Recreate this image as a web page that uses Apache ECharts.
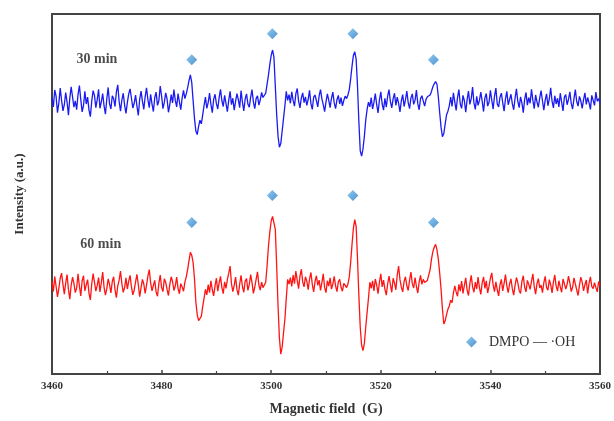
<!DOCTYPE html>
<html>
<head>
<meta charset="utf-8">
<script src="https://cdn.jsdelivr.net/npm/echarts@6/dist/echarts.min.js"></script>
<style>
html,body{margin:0;padding:0;background:#fff;}
#chart{width:614px;height:421px;}
</style>
</head>
<body>
<div id="chart"></div>
<script>
// Sampling grid of the spectra (Gauss)
const FIELD_START = 3460;
const FIELD_STEP = 0.25;
const X_TICKS = [3460, 3480, 3500, 3520, 3540, 3560];

// 30 min spectrum (blue)
const BLUE_30MIN = [
  76.8,74.2,78.9,77.1,72.6,75.3,79.4,76.0,73.1,74.8,
  78.2,75.5,71.9,76.7,79.8,77.0,74.1,75.9,73.4,77.6,
  80.1,76.3,72.8,74.6,78.5,75.0,76.9,73.3,71.5,75.8,
  78.7,77.4,74.0,76.2,79.1,73.8,75.6,77.9,74.5,72.2,
  76.4,79.6,75.1,73.6,77.3,76.5,74.3,78.4,80.3,75.7,
  73.0,76.1,78.0,74.7,72.4,75.4,77.8,79.2,76.6,73.9,
  75.2,77.5,74.4,71.8,76.3,78.6,75.8,73.5,77.0,79.5,
  76.2,74.0,77.7,75.0,72.9,76.8,78.3,74.6,75.9,80.0,
  77.2,73.7,75.5,78.1,76.4,72.7,74.9,77.6,75.3,79.0,
  76.0,74.2,77.9,75.6,73.4,76.7,78.8,
  76.5,77.8,79.5,81.5,83.1,81.0,76.0,71.0,67.5,66.5,68.8,70.5,69.5,72.0,
  74.6,76.9,73.8,75.4,78.0,74.9,72.6,76.3,77.7,75.1,
  73.6,76.8,79.1,75.9,74.3,77.4,75.2,72.9,76.0,78.5,
  74.8,76.6,73.3,75.7,77.9,76.2,74.0,78.7,75.5,73.1,
  76.4,77.8,75.0,74.1,76.9,79.0,75.6,73.7,76.5,77.3,
  74.7,76.1,78.2,76.8,
  77.0,78.0,80.5,83.0,86.0,88.5,90.0,88.0,80.0,72.0,66.0,63.0,64.0,67.5,71.0,74.5,78.5,76.0,
  77.6,75.2,78.4,76.0,74.4,77.9,79.3,75.8,73.9,76.7,
  78.1,75.4,77.0,74.6,76.3,78.8,75.1,73.5,76.9,77.5,
  75.9,74.2,77.3,79.0,76.4,74.8,72.9,75.6,77.8,76.1,
  74.0,76.6,78.3,75.3,73.7,76.2,77.4,75.0,76.8,74.5,
  76.0,77.2,
  76.5,77.5,79.0,82.0,85.5,88.5,89.5,87.5,80.0,70.0,62.0,60.5,62.5,66.0,70.5,73.5,75.5,
  74.2,76.8,73.6,75.5,77.9,74.8,72.5,76.1,78.4,75.0,
  73.3,76.6,74.1,77.2,79.0,75.7,73.9,76.4,78.0,74.6,
  76.9,75.2,72.8,75.9,77.6,74.3,76.2,78.6,75.4,73.7,
  76.7,77.8,74.9,76.0,78.9,75.1,73.4,76.5,77.3,75.8,
  74.4,76.3,77.0,
  76.5,77.5,78.5,79.8,80.6,81.2,80.5,77.0,72.5,68.5,65.9,66.8,69.5,72.0,73.0,74.5,
  76.9,74.3,78.1,75.6,73.2,76.8,79.0,75.0,73.8,77.4,
  75.9,72.7,76.2,78.6,74.9,76.5,79.7,75.3,73.5,77.1,
  74.6,76.0,78.3,75.8,72.9,76.7,77.9,74.4,75.5,78.8,
  76.1,73.6,77.2,79.4,75.0,74.2,76.9,78.0,75.4,73.0,
  76.4,78.5,74.8,76.2,77.7,75.1,73.4,76.6,79.2,75.7,
  74.0,77.0,75.3,72.6,76.3,78.2,74.7,76.8,75.2,79.1,
  76.0,73.7,77.5,75.6,74.1,76.7,78.7,75.9,73.3,76.1,
  77.8,74.5,76.4,79.5,75.8,73.9,77.3,75.0,76.6,74.2,
  78.0,75.5,73.1,76.9,77.6,74.8,76.3,78.4,75.2,73.6,
  76.5,79.0,75.7,74.4,77.1,75.9,73.8,76.2,78.1,74.9,
  76.8,75.4,73.5,77.4,76.0,74.6,78.3,75.8,76.5,75.1
];

// 60 min spectrum (red)
const RED_60MIN = [
  25.8,22.9,27.1,24.3,21.4,23.8,26.6,28.0,24.9,22.2,
  25.3,27.6,23.5,20.8,24.7,26.9,25.2,22.6,23.9,27.8,
  24.4,21.7,25.9,27.3,23.1,24.8,26.2,22.4,20.6,25.0,
  27.9,25.5,23.0,24.6,26.8,22.8,25.4,28.3,24.1,21.9,
  23.7,26.4,24.9,22.5,25.7,27.0,23.4,21.2,24.5,26.1,
  28.6,25.1,22.7,24.0,26.7,23.6,25.8,27.4,24.2,22.0,
  23.3,25.6,27.7,24.8,21.5,23.9,26.3,25.0,22.4,24.7,
  27.2,29.0,25.3,23.1,24.6,26.0,22.8,21.6,25.2,27.5,
  24.0,22.9,26.5,25.4,23.5,21.8,24.9,27.0,25.7,23.2,
  24.5,26.9,23.8,22.3,25.1,24.2,23.0,
  25.5,27.0,29.0,31.5,33.8,33.0,31.0,26.5,20.0,16.5,14.8,14.4,16.0,18.8,21.0,23.5,22.0,
  24.8,22.6,25.9,23.4,21.7,24.5,26.6,23.0,25.3,27.1,
  24.0,22.3,25.6,23.8,26.2,28.0,30.0,25.1,22.9,24.6,
  26.9,23.5,21.9,25.0,27.4,24.3,22.7,25.8,26.5,23.2,
  24.9,27.6,25.4,22.4,24.1,26.3,28.4,24.7,23.3,25.5,
  24.0,
  24.5,25.5,30.0,35.5,39.5,42.5,43.8,42.0,40.2,30.0,18.9,10.0,5.5,7.5,11.5,15.2,21.0,26.3,25.0,
  26.8,24.3,27.5,25.1,28.6,26.0,23.7,27.2,29.1,25.6,
  24.2,27.0,25.8,23.4,26.4,28.2,24.9,22.8,25.7,27.3,
  24.6,26.1,23.2,25.4,27.8,24.0,22.6,25.9,24.4,26.7,
  23.6,25.0,27.1,24.5,22.9,25.6,26.3,24.1,23.0,25.2,
  24.6,
  24.0,25.0,27.0,31.0,36.0,40.5,42.9,41.0,32.0,21.7,13.0,8.0,6.5,8.5,13.0,17.1,21.0,25.5,23.8,
  25.9,23.1,26.4,24.7,22.3,25.5,27.8,24.2,26.1,23.6,
  21.9,25.0,27.2,24.8,22.7,26.6,25.3,23.4,27.5,30.0,
  26.2,24.1,22.8,25.7,27.0,24.5,23.2,26.0,28.3,25.1,
  23.9,26.8,24.3,22.5,25.6,27.4,24.9,26.3,25.4,25.8,
  26.0,26.3,29.0,31.9,34.0,35.2,36.0,34.5,31.9,28.0,23.5,18.0,13.9,14.8,16.5,18.0,18.9,20.5,19.8,22.5,24.5,22.8,
  21.6,24.9,23.0,25.8,22.4,24.6,26.7,23.3,21.8,25.1,
  27.4,24.2,22.7,25.5,23.6,26.9,24.0,22.1,25.3,27.0,
  23.8,25.9,22.5,24.4,26.6,28.1,24.7,22.9,25.6,23.4,
  21.7,24.8,26.3,23.1,25.2,27.6,24.5,22.6,25.0,26.4,
  23.7,21.9,24.6,26.8,25.4,23.2,22.4,25.7,27.3,24.1,
  22.8,26.0,24.9,23.5,25.8,27.8,24.3,22.2,25.1,26.5,
  23.9,24.7,22.6,25.4,27.1,24.0,23.3,26.2,24.8,22.5,
  25.6,27.5,24.4,23.0,25.9,24.2,22.7,26.4,25.1,23.6,
  24.9,27.2,25.3,22.9,24.1,26.7,25.0,23.4,21.8,24.6,
  26.9,25.5,23.1,24.8,26.1,22.4,25.2,27.0,24.3,23.7,
  25.4,24.0,22.8,25.7,24.5
];

// DMPO-·OH peak markers
const MARKER_FIELDS = [3485.5, 3500.2, 3514.9, 3529.6];
const MARKER_Y_30MIN = [87.3, 94.5, 94.5, 87.3];
const MARKER_Y_60MIN = [42.1, 49.6, 49.6, 42.1];
const MARKER_NAME = 'DMPO — ·OH';

// curve labels
const CURVE_LABELS = ['30 min', '60 min'];
const CURVE_LABEL_FIELD = [3468.2, 3468.9];
const CURVE_LABEL_Y = [87.5, 36.0];

const toSeries = arr => arr.map((v, i) => [FIELD_START + i * FIELD_STEP, v]);
const markerData = MARKER_FIELDS.map((f, i) => [f, MARKER_Y_30MIN[i]])
  .concat(MARKER_FIELDS.map((f, i) => [f, MARKER_Y_60MIN[i]]));
const labelData = CURVE_LABELS.map((t, i) => ({ name: t, value: [CURVE_LABEL_FIELD[i], CURVE_LABEL_Y[i]] }));

const SERIF = "'Liberation Serif', 'DejaVu Serif', serif";
const chart = echarts.init(document.getElementById('chart'), null, { renderer: 'canvas' });
const diamondColor = new echarts.graphic.LinearGradient(0, 0, 1, 1, [
  { offset: 0, color: '#72bdec' },
  { offset: 1, color: '#2476c2' }
]);

chart.setOption({
  animation: false,
  backgroundColor: '#ffffff',
  grid: {
    left: 52, right: 12, top: 14, bottom: 46,
    show: true, borderColor: '#444', borderWidth: 2, backgroundColor: 'transparent'
  },
  legend: {
    data: [MARKER_NAME],
    left: 466, top: 335,
    icon: 'diamond', itemWidth: 11, itemHeight: 11, itemGap: 6, padding: 0,
    formatter: n => '  ' + n,
    textStyle: { fontFamily: SERIF, fontSize: 14, color: '#333' }
  },
  xAxis: {
    type: 'value', min: X_TICKS[0], max: X_TICKS[X_TICKS.length - 1], interval: 20,
    name: 'Magnetic field  (G)', nameLocation: 'middle', nameGap: 28,
    nameTextStyle: { fontFamily: SERIF, fontSize: 14, fontWeight: 'bold', color: '#333' },
    axisLine: { show: true, lineStyle: { color: '#444', width: 2 } },
    axisTick: { show: true, inside: true, length: 4, lineStyle: { color: '#444', width: 1.5 } },
    minorTick: { show: true, splitNumber: 2, length: 3, lineStyle: { color: '#444', width: 1.2 } },
    axisLabel: { fontFamily: SERIF, fontSize: 11, fontWeight: 'bold', color: '#333', margin: 7, formatter: v => String(v) },
    splitLine: { show: false }, minorSplitLine: { show: false }
  },
  yAxis: {
    type: 'value', min: 0, max: 100,
    name: 'Intensity (a.u.)', nameLocation: 'middle', nameGap: 26, nameRotate: 90,
    nameTextStyle: { fontFamily: SERIF, fontSize: 13, fontWeight: 'bold', color: '#333' },
    axisLine: { show: true, lineStyle: { color: '#444', width: 2 } },
    axisTick: { show: false }, axisLabel: { show: false }, splitLine: { show: false }
  },
  series: [
    {
      name: '30 min', type: 'line', data: toSeries(BLUE_30MIN), showSymbol: false,
      lineStyle: { color: '#1a1af2', width: 1.3 }, itemStyle: { color: '#1a1af2' }, z: 3
    },
    {
      name: '60 min', type: 'line', data: toSeries(RED_60MIN), showSymbol: false,
      lineStyle: { color: '#ff1414', width: 1.3 }, itemStyle: { color: '#ff1414' }, z: 3
    },
    {
      name: MARKER_NAME, type: 'scatter', data: markerData, symbol: 'diamond', symbolSize: 11,
      itemStyle: { color: diamondColor }, z: 4
    },
    {
      name: 'labels', type: 'scatter', data: labelData, symbolSize: 0, silent: true,
      label: {
        show: true, position: 'inside', formatter: p => p.name,
        fontFamily: SERIF, fontSize: 14, fontWeight: 'bold', color: '#1e1e1e'
      }
    }
  ]
});
</script>
</body>
</html>
